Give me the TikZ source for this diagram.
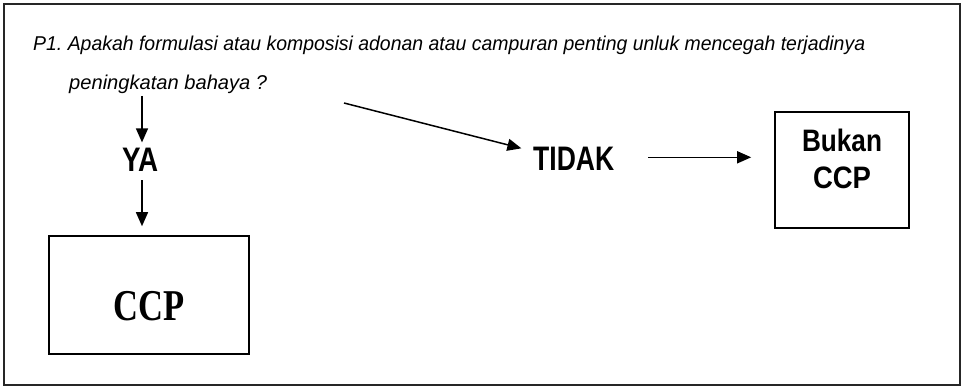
\documentclass[tikz,border=0pt]{standalone}
\usepackage{fontspec}
\usepackage{graphicx}
\setmainfont{Liberation Sans}
\newfontfamily\timesf{Liberation Serif}
\usetikzlibrary{arrows.meta}
\newcommand\fitw[2]{\resizebox{#1}{\height}{#2}}
\tikzset{
  arr/.style={line width=1.5pt, -{Triangle[length=14pt,width=12pt]}},
  txt/.style={inner sep=0pt, anchor=base west},
  boxed/.style={draw, line width=1.6pt, inner sep=0pt},
  qfont/.style={font=\fontsize{20}{24}\itshape\selectfont},
  bigfont/.style={font=\fontsize{34}{40}\bfseries\selectfont},
}
\begin{document}
\frenchspacing
\begin{tikzpicture}[x=1pt,y=-1pt]
\useasboundingbox[fill=white] (0,0) rectangle (963,387);
\draw[line width=2.2pt, draw=black!85] (4,4) rectangle (960,385);

\node[txt, qfont] (q1) at (33,51) {\fitw{832pt}{P1. Apakah formulasi atau komposisi adonan atau campuran penting unluk mencegah terjadinya}};
\node[txt, qfont] (q2) at (69,90) {\fitw{198pt}{peningkatan bahaya ?}};

\node[txt, bigfont] (ya) at (122,172) {\fitw{36pt}{YA}};
\node[txt, bigfont] (tidak) at (533,171) {\fitw{81pt}{TIDAK}};

\node[boxed, minimum width=200pt, minimum height=118pt, font=\fontsize{44}{50}\timesf\bfseries\selectfont] (ccp) at (149,295)
  {\fitw{71pt}{CCP}\rule{0pt}{52pt}};

\node[boxed, minimum width=134pt, minimum height=116pt, align=center, font=\fontsize{31}{37}\bfseries\selectfont] (bukan) at (842,170)
  {\fitw{80pt}{Bukan}\\\fitw{58pt}{CCP}\rule[-22pt]{0pt}{0pt}};

\coordinate (a1s) at (142,96);
\coordinate (d0) at (344,103);

\draw[arr, shorten >=6pt] (a1s) -- (a1s |- ya.north);
\draw[arr, shorten <=8pt, shorten >=9pt] (a1s |- ya.south) -- (a1s |- ccp.north);
\draw[arr, shorten >=12pt] (d0) -- ([yshift=8pt]tidak.west);
\draw[arr, shorten <=34pt, shorten >=23pt] ([yshift=2pt]tidak.east) -- ([yshift=2pt]tidak.east -| bukan.west);
\end{tikzpicture}
\end{document}
